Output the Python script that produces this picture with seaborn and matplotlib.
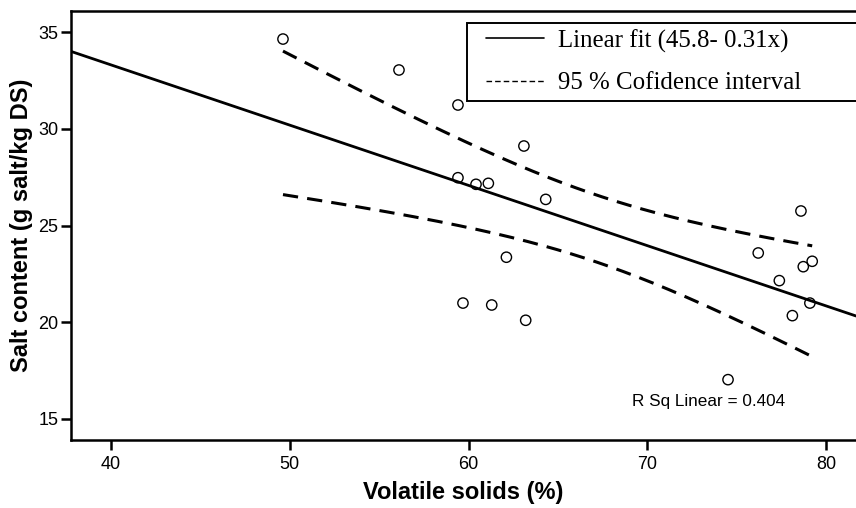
import numpy as np
import pandas as pd
import matplotlib
matplotlib.use("Agg")
import matplotlib.pyplot as plt
import seaborn as sns
from matplotlib.lines import Line2D
from matplotlib.legend_handler import HandlerLine2D

# ---- data ----
volatile_solids = [49.62, 56.11, 59.41, 63.10, 59.41, 60.42, 61.11, 64.32, 78.60, 76.21,
                   62.12, 59.69, 61.30, 63.20, 74.52, 77.39, 78.73, 79.23, 79.10, 78.12]
salt_content = [34.64, 33.04, 31.23, 29.11, 27.47, 27.13, 27.18, 26.35, 25.75, 23.58,
                23.36, 20.99, 20.89, 20.10, 17.03, 22.15, 22.87, 23.15, 20.99, 20.34]
legend_labels = ["Linear fit (45.8- 0.31x)", "95 % Cofidence interval"]
r2_label = "R Sq Linear = 0.404"
x_ticks = [40, 50, 60, 70, 80]
y_ticks = [15, 20, 25, 30, 35]
t_975_df18 = 2.101  # Student t quantile for 95 % CI, n-2 = 18 df

sns.set_style("ticks")
plt.rcParams["font.family"] = ["Liberation Sans", "DejaVu Sans"]
plt.rcParams["text.color"] = "black"
plt.rcParams["axes.labelcolor"] = "black"

df = pd.DataFrame({"vs": volatile_solids, "salt": salt_content})
x = df["vs"].to_numpy()
y = df["salt"].to_numpy()
n = len(x)
slope, intercept = np.polyfit(x, y, 1)
resid = y - (intercept + slope * x)
s = np.sqrt(np.sum(resid ** 2) / (n - 2))
xbar = x.mean()
sxx = np.sum((x - xbar) ** 2)

xlim = (37.76, 81.68)
ylim = (13.91, 36.09)

fig = plt.figure(figsize=(8.56, 5.08), dpi=100)
ax = fig.add_axes([71 / 856, 68 / 508, 785 / 856, 429 / 508])

# fit line across the whole axis
xf = np.linspace(xlim[0], xlim[1], 200)
fit_df = pd.DataFrame({"x": xf, "y": intercept + slope * xf})
sns.lineplot(data=fit_df, x="x", y="y", ax=ax, color="black", lw=2.0, sort=True)

# 95% confidence interval of the mean, over the data range
xc = np.linspace(x.min(), x.max(), 200)
yc = intercept + slope * xc
half = t_975_df18 * s * np.sqrt(1.0 / n + (xc - xbar) ** 2 / sxx)
ci_df = pd.DataFrame({"x": xc, "lo": yc - half, "hi": yc + half})
dash = (0, (5.0, 3.0))
sns.lineplot(data=ci_df, x="x", y="hi", ax=ax, color="black", lw=2.2, linestyle=dash)
sns.lineplot(data=ci_df, x="x", y="lo", ax=ax, color="black", lw=2.2, linestyle=dash)

sns.scatterplot(data=df, x="vs", y="salt", ax=ax, marker="o", s=55,
                facecolor="none", edgecolor="black", linewidth=1.0, zorder=5)

ax.set_xlim(*xlim)
ax.set_ylim(*ylim)
ax.set_xticks(x_ticks)
ax.set_yticks(y_ticks)
ax.tick_params(axis="both", direction="out", length=7.5, width=1.8, labelsize=13,
               colors="black")
ax.tick_params(axis="x", pad=4)
ax.tick_params(axis="y", pad=1.5)
for side in ["left", "bottom", "top"]:
    ax.spines[side].set_linewidth(1.8)
    ax.spines[side].set_color("black")
ax.spines["right"].set_visible(False)

ax.set_xlabel("Volatile solids (%)", fontsize=17, fontweight="bold", labelpad=6,
              color="black")
ax.set_ylabel("Salt content (g salt/kg DS)", fontsize=17, fontweight="bold", labelpad=4,
              color="black")

ax.text(0.7146, 0.0793, r2_label, transform=ax.transAxes, fontsize=12.3,
        ha="left", va="baseline", color="black")

handles = [Line2D([], [], color="black", lw=1.2),
           Line2D([], [], color="black", lw=1.0, linestyle=(0, (4, 2.2)))]
fs = 17.9
leg = ax.legend(handles, legend_labels, loc="upper left",
                bbox_to_anchor=(467 / 856, 1 - 23 / 508, 420 / 856, 0.0),
                bbox_transform=fig.transFigure, mode="expand",
                prop={"family": ["Liberation Serif", "DejaVu Serif"], "size": fs},
                frameon=True, fancybox=False, framealpha=1, edgecolor="black",
                borderaxespad=0, borderpad=0.25, labelspacing=0.78,
                handlelength=2.86, handletextpad=0.55,
                handler_map={Line2D: HandlerLine2D(xpad=0.5)})
leg.get_frame().set_linewidth(1.4)
for t in leg.get_texts():
    t.set_color("black")

fig.savefig("out.png", dpi=100)
